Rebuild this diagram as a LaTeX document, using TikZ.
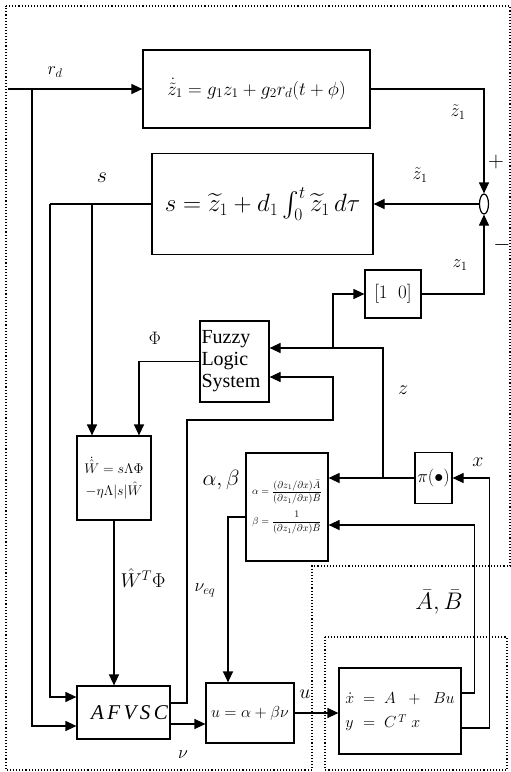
\RequirePackage{fix-cm}
\documentclass[tikz,border=0pt]{standalone}
\usepackage{amsmath}
\usepackage{fontspec}
\setmainfont{Liberation Serif}
\usepackage{tikz}
\usetikzlibrary{arrows.meta,positioning,calc,shapes.geometric}

\begin{document}
\begin{tikzpicture}[
  x=1pt, y=-1pt,
  blk/.style={draw, line width=1.2pt, inner sep=1pt, align=center},
  sig/.style={line width=1.2pt, -{Triangle[length=11pt,width=10pt]}},
  wire/.style={line width=1.2pt},
  lbl/.style={inner sep=0pt, font=\fontsize{18}{20}\selectfont},
  biglbl/.style={inner sep=0pt, font=\fontsize{22}{24}\selectfont},
  zone/.style={dotted, line width=1.1pt},
]
\useasboundingbox (0,0) rectangle (511,772);

% Dotted regions: controller and plant
\draw[zone] (6,6) -- (510,6) -- (510,566) -- (312,566) -- (312,770) -- (6,770) -- cycle;
\draw[zone] (325,637) rectangle (507,770);

% Reference model and sliding surface
\node[blk, minimum width=227pt, minimum height=78pt, font=\fontsize{19}{22}\selectfont] (zdot) at (256.5,89)
  {$\dot{\tilde z}_1=g_1z_1+g_2r_d(t+\phi)$};
\node[blk, minimum width=221pt, minimum height=101pt, font=\fontsize{25}{28}\selectfont] (sblk) at (262.5,204)
  {$s=\widetilde{z}_1+d_1\int_0^t\widetilde{z}_1\,d\tau$};
\node[draw, ellipse, line width=1.2pt, minimum width=9pt, minimum height=20pt, inner sep=0pt] (sum) at (484,204) {};
\node[blk, minimum width=56pt, minimum height=48pt, font=\fontsize{19}{21}\selectfont] (one0) at (393,294) {$[1\;\;0]$};

% Fuzzy logic system and adaptive law
\node[blk, text width=66pt, minimum height=81pt, inner sep=1.5pt, align=left,
      font=\fontsize{20}{22}\selectfont] (fls) at (234.5,361.5) {Fuzzy\\Logic\\System};
\node[blk, minimum width=74pt, minimum height=84pt, font=\fontsize{14}{22}\selectfont] (wblk) at (114,478)
  {$\dot{\hat W}=s\Lambda\Phi$\\$-\eta\Lambda|s|\hat W$};

% Feedback linearisation
\node[blk, minimum width=82pt, minimum height=108pt, font=\fontsize{10}{12}\selectfont] (ab) at (287,507)
  {$\alpha=\dfrac{(\partial z_1/\partial x)\bar A}{(\partial z_1/\partial x)\bar B}$\\[6pt]
   $\beta=\dfrac{1}{(\partial z_1/\partial x)\bar B}$};
\node[blk, minimum width=37pt, minimum height=51pt, font=\fontsize{18}{20}\selectfont] (pi) at (433.5,478) {$\pi(\bullet)$};

% Controller and plant
\node[blk, minimum width=93pt, minimum height=53pt, font=\fontsize{21}{23}\selectfont\itshape] (afvsc) at (123.5,712.5)
  {\hspace*{12pt}A\,F\,V\,S\,C};
\node[blk, minimum width=88pt, minimum height=60pt, font=\fontsize{16}{18}\selectfont] (ublk) at (250,713)
  {$u=\alpha+\beta\nu$};
\node[blk, minimum width=122pt, minimum height=86pt, font=\fontsize{16}{24}\selectfont] (plant) at (400,711)
  {$\begin{array}{@{}l@{\;\;}c@{\;\;}l@{}}\dot x&=&A\;\;+\;\;Bu\\ y&=&C^{\,T}\;x\end{array}$};

% Connectors
\coordinate (rd) at (8,89);
\coordinate (rdb) at (32,89);
\coordinate (sl) at (50,204);
\coordinate (sb) at (92,204);
\coordinate (nu1) at ($(afvsc.east)+(0,11.5)$);
\coordinate (nu2) at ($(afvsc.east)+(0,-9.5)$);
\coordinate (fb1) at (187,420);
\coordinate (fb2) at (333,377);
\coordinate (zb) at (383,478);
\coordinate (zc) at (333,348);

\draw[sig] (rd) -- (zdot.west);
\draw[sig] (rdb) |- ($(afvsc.west)+(0,13.5)$);
\draw[sig] (zdot.east) -| (sum.north);
\draw[sig] (sum.west) -- (sblk.east);
\draw[sig] (one0.east) -| (sum.south);
\draw[wire] (sblk.west) -- (sl);
\draw[sig] (sl) |- ($(afvsc.west)+(0,-15.5)$);
\draw[sig] (sb) -- (sb |- wblk.north);
\draw[sig] (fls.west) -| ($(wblk.north)+(25,0)$);
\draw[sig] (wblk.south) -- (wblk.south |- afvsc.north);
\draw[sig] (nu1) -- (nu1 -| ublk.west);
\draw[sig] (nu2) -| (fb1) -| (fb2) -- (fb2 -| fls.east);
\draw[sig] (pi.west) -- (pi.west -| ab.east);
\draw[sig] (zb) |- ($(fls.east)+(0,-13.5)$);
\draw[sig] (zc) |- (one0.west);
\draw[sig] ($(ab.west)+(0,10)$) -| ($(ublk.north)+(-22,0)$);
\draw[sig] (ublk.east) -- (ublk.east -| plant.west);
\draw[sig] ($(plant.east)+(0,-18)$) -- ++(13,0) |- ($(ab.east)+(0,18)$);
\draw[sig] ($(plant.east)+(0,17)$) -- ++(28,0) |- (pi.east);

% Signal labels
\node[lbl] (lrd) at (55,72) {$r_d$};
\node[lbl] (lzt) at (458,112) {$\tilde z_1$};
\node[biglbl] (lplus) at (496,162) {$+$};
\node[lbl] (lzs) at (420,175) {$\tilde z_1$};
\node[biglbl] (lminus) at (502,245) {$-$};
\node[biglbl] (ls) at (102,178) {$s$};
\node[lbl] (lz1) at (460,265) {$z_1$};
\node[lbl] (lphi) at (155,338) {$\Phi$};
\node[lbl, font=\fontsize{20}{22}\selectfont] (lz) at (403,390) {$z$};
\node[biglbl] (lab) at (221,480) {$\alpha,\beta$};
\node[lbl, font=\fontsize{20}{22}\selectfont] (lx) at (478,462) {$x$};
\node[lbl, font=\fontsize{20}{22}\selectfont] (lwphi) at (143,578) {$\hat W^T\Phi$};
\node[lbl] (lveq) at (205,590) {$\nu_{eq}$};
\node[lbl, font=\fontsize{24}{26}\selectfont] (lAB) at (439,602) {$\bar A,\bar B$};
\node[lbl, font=\fontsize{20}{22}\selectfont] (lu) at (305,694) {$u$};
\node[lbl] (lnu) at (183,755) {$\nu$};

\end{tikzpicture}
\end{document}
